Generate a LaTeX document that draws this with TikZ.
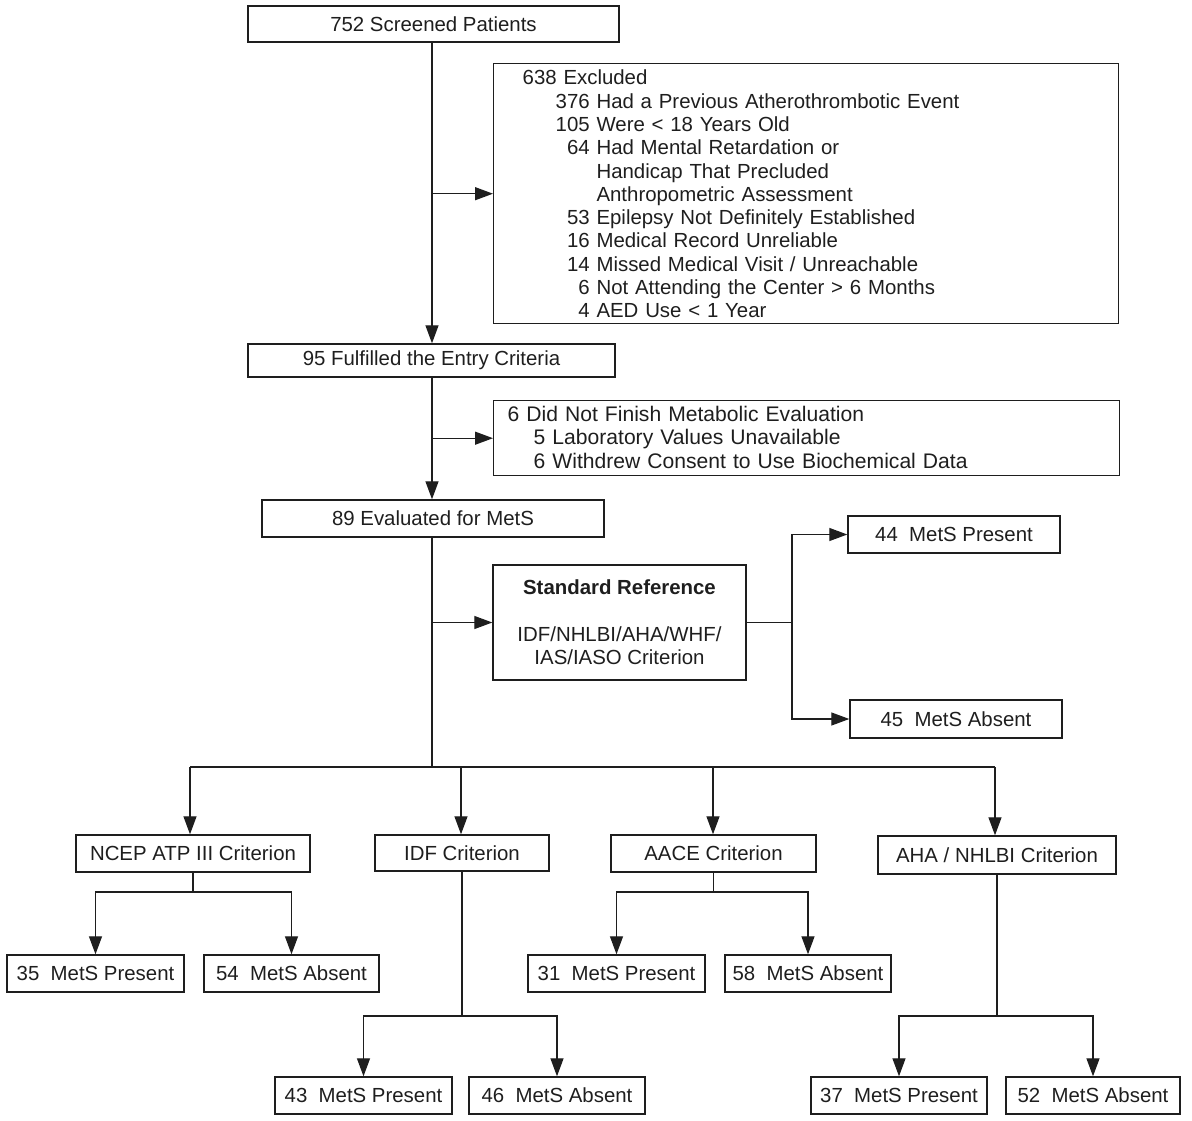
\documentclass[tikz,border=0pt]{standalone}
\usepackage{fontspec}
\setmainfont{Liberation Sans}
\usetikzlibrary{arrows.meta}
\definecolor{ink}{HTML}{1E1E1E}
\begin{document}
\begin{tikzpicture}[x=1pt,y=-1pt,
  every node/.style={font=\fontsize{20.4}{23.3}\selectfont, text=ink},
  box/.style={draw=ink, line width=1.4pt, inner sep=0pt, rectangle},
  arr/.style={draw=ink, line width=1.3pt, -{Triangle[length=18pt,width=13pt]}},
  ln/.style={draw=ink, line width=1.3pt}]
\useasboundingbox (0,0) rectangle (1192,1121);

% trunk boxes
\node[box, minimum width=371pt, minimum height=36pt] (s752) at (433.5,24) {752 Screened Patients};
\node[box, anchor=north west, text width=567pt, inner xsep=29pt, inner ysep=0pt, minimum height=260pt, align=left] (excl) at (493,63)
 {\raisebox{-3pt}[\height][\depth]{\begin{tabular}{@{\hspace{33pt}}r@{ }l@{}}
  \multicolumn{2}{@{}l@{}}{638 Excluded}\\
  376 & Had a Previous Atherothrombotic Event\\
  105 & Were < 18 Years Old\\
  64 & Had Mental Retardation or\\
     & Handicap That Precluded\\
     & Anthropometric Assessment\\
  53 & Epilepsy Not Definitely Established\\
  16 & Medical Record Unreliable\\
  14 & Missed Medical Visit / Unreachable\\
  6 & Not Attending the Center > 6 Months\\
  4 & AED Use < 1 Year
 \end{tabular}}};
\node[box, minimum width=367pt, minimum height=33pt] (f95) at (431.5,360.5) {95 Fulfilled the Entry Criteria};
\node[box, anchor=north west, text width=598pt, inner xsep=14pt, inner ysep=0pt, minimum height=75pt, align=left,
      font=\fontsize{21.1}{23.5}\selectfont] (dnf) at (493,400)
 {\raisebox{-2pt}[\height][\depth]{\begin{tabular}{@{\hspace{26pt}}l@{}}
  \multicolumn{1}{@{}l@{}}{6 Did Not Finish Metabolic Evaluation}\\
  5 Laboratory Values Unavailable\\
  6 Withdrew Consent to Use Biochemical Data
 \end{tabular}}};
\node[box, minimum width=342pt, minimum height=37pt] (e89) at (433,518.5) {89 Evaluated for MetS};
\node[box, minimum width=253pt, minimum height=115pt, align=center] (std) at (619.5,622.5)
 {\textbf{Standard Reference}\\[23.3pt]IDF/NHLBI/AHA/WHF/\\IAS/IASO Criterion};
\node[box, minimum width=212pt, minimum height=37pt] (p44) at (954,534.5) {44~~MetS Present};
\node[box, minimum width=212pt, minimum height=38pt] (a45) at (956,719) {45~~MetS Absent};

% criteria
\node[box, minimum width=234pt, minimum height=37pt] (ncep) at (193,853.5) {NCEP ATP III Criterion};
\node[box, minimum width=174pt, minimum height=36pt] (idf) at (462,853) {IDF Criterion};
\node[box, minimum width=205pt, minimum height=37pt] (aace) at (713.5,853.5) {AACE Criterion};
\node[box, minimum width=238pt, minimum height=38pt] (aha) at (997,855) {AHA / NHLBI Criterion};

% outcomes
\node[box, minimum width=177pt, minimum height=37pt] (b35) at (95.5,973.5) {35~~MetS Present};
\node[box, minimum width=175pt, minimum height=37pt] (b54) at (291.5,973.5) {54~~MetS Absent};
\node[box, minimum width=177pt, minimum height=37pt] (b43) at (363.5,1095.5) {43~~MetS Present};
\node[box, minimum width=176pt, minimum height=37pt] (b46) at (557,1095.5) {46~~MetS Absent};
\node[box, minimum width=177pt, minimum height=37pt] (b31) at (616.5,973.5) {31~~MetS Present};
\node[box, minimum width=166pt, minimum height=37pt] (b58) at (808,973.5) {58~~MetS Absent};
\node[box, minimum width=176pt, minimum height=37pt] (b37) at (899,1095.5) {37~~MetS Present};
\node[box, minimum width=174pt, minimum height=37pt] (b52) at (1093,1095.5) {52~~MetS Absent};

% connectors: trunk
\coordinate (t0) at (432,42);
\draw[arr] (t0) -- (t0 |- f95.north);
\draw[arr] (t0 |- excl.west) -- (excl.west);
\draw[arr] (f95.south -| t0) -- (t0 |- e89.north);
\draw[arr] (t0 |- dnf.west) -- (dnf.west);
\coordinate (bus) at (432,767);
\draw[ln] (e89.south -| t0) -- (bus);
\draw[arr] (t0 |- std.west) -- (std.west);

% standard reference split
\coordinate (sj) at (792,622.5);
\draw[ln] (std.east) -- (sj);
\draw[arr] (sj) |- (p44.west);
\draw[arr] (sj) |- (a45.west);

% bus to criteria
\coordinate (c1) at (190,767);
\coordinate (c2) at (461,767);
\coordinate (c3) at (713,767);
\coordinate (c4) at (995,767);
\draw[ln] (c1) -- (c4);
\draw[arr] (c1) -- (c1 |- ncep.north);
\draw[arr] (c2) -- (c2 |- idf.north);
\draw[arr] (c3) -- (c3 |- aace.north);
\draw[arr] (c4) -- (c4 |- aha.north);

% criteria splits
\coordinate (nj) at (193,892);
\draw[ln] (ncep.south) -- (nj);
\draw[arr] (nj) -| (b35.north);
\draw[arr] (nj) -| (b54.north);

\coordinate (ij) at (462,1016);
\draw[ln] (idf.south) -- (ij);
\draw[arr] (ij) -| (b43.north);
\draw[arr] (ij) -| (b46.north);

\coordinate (aj) at (713.5,892);
\draw[ln] (aace.south) -- (aj);
\draw[arr] (aj) -| (b31.north);
\draw[arr] (aj) -| (b58.north);

\coordinate (hj) at (997,1016);
\draw[ln] (aha.south) -- (hj);
\draw[arr] (hj) -| (b37.north);
\draw[arr] (hj) -| (b52.north);
\end{tikzpicture}
\end{document}
